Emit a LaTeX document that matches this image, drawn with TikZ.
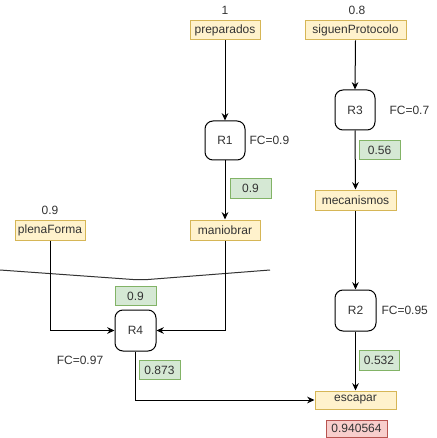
\documentclass[tikz,border=0pt]{standalone}
\usepackage{fontspec}
\setmainfont{Liberation Sans}
\usetikzlibrary{arrows.meta}
\definecolor{yfill}{HTML}{FFF2CC}
\definecolor{ydraw}{HTML}{D6B656}
\definecolor{gfill}{HTML}{D5E8D4}
\definecolor{gdraw}{HTML}{82B366}
\definecolor{rfill}{HTML}{F8CECC}
\definecolor{rdraw}{HTML}{B85450}
\definecolor{txt}{HTML}{333333}
\tikzset{
  base/.style={inner sep=0pt, line width=0.75pt, font=\fontsize{9}{11}\selectfont, text=txt},
  sz/.style 2 args={minimum width=#1*0.75pt, minimum height=#2*0.75pt},
  ybox/.style={base, draw=ydraw, fill=yfill},
  gbox/.style={base, draw=gdraw, fill=gfill},
  rbox/.style={base, draw=rdraw, fill=rfill},
  rule/.style={base, draw=black, fill=white, rounded corners=6pt},
  lbl/.style={base},
  conn/.style={line width=0.75pt, -{Stealth[length=5.5pt,width=5pt]}},
}
\begin{document}
\begin{tikzpicture}[x=0.75pt,y=-0.75pt]
\useasboundingbox (0,0) rectangle (436,438);
% top inputs
\node[lbl] (l1) at (225,10) {1};
\node[ybox, sz={70}{19}] (prep) at (225,30.5) {preparados};
\node[lbl] (l08) at (357,10) {0.8};
\node[ybox, sz={101}{19}] (sig) at (355.5,30.5) {siguenProtocolo};
% R1
\node[rule, sz={40}{39}] (R1) at (225,140.5) {R1};
\node[lbl, anchor=west] (fc1) at (249,140) {FC=0.9};
\node[gbox, sz={41}{19}] (g1) at (250.5,188.5) {0.9};
% R3
\node[rule, sz={40}{40}] (R3) at (355,110) {R3};
\node[lbl, anchor=west] (fc3) at (389,110) {FC=0.7};
\node[gbox, sz={41}{19}] (g3) at (379.5,150.5) {0.56};
\node[ybox, sz={81}{20}] (mec) at (355.5,200) {mecanismos};
% middle
\node[lbl] (l09) at (50,210) {0.9};
\node[ybox, sz={70}{20}] (plena) at (50,230) {plenaForma};
\node[ybox, sz={70}{20}] (man) at (225,230) {maniobrar};
% curve
\coordinate (c0) at (0,270);
\coordinate (c1) at (133,279.5);
\coordinate (c2) at (148,279.5);
\coordinate (c3) at (270,270);
\draw[line width=0.75pt, draw=black!80] (c0) -- (c1) -- (c2) -- (c3);
% R4
\node[gbox, sz={41}{19}] (g4) at (135.5,296) {0.9};
\node[rule, sz={41}{41}] (R4) at (135.5,330.5) {R4};
\node[lbl] (fc4) at (80,360) {FC=0.97};
\node[gbox, sz={41}{19}] (g5) at (159.5,370) {0.873};
% R2
\node[rule, sz={41}{41}] (R2) at (355.5,310.5) {R2};
\node[lbl, anchor=west] (fc2) at (381,310) {FC=0.95};
\node[gbox, sz={40}{20}] (g2) at (379,360) {0.532};
\node[ybox, sz={81}{18}] (esc) at (355.5,400) {escapar};
\node[rbox, sz={61}{17}] (red) at (356.5,428.5) {0.940564};
% connectors
\draw[conn] (prep.south) -- (R1.north);
\draw[conn] (R1.south) -- (man.north);
\draw[conn] (sig.south) -- (R3.north);
\draw[conn] (R3.south) -- (mec.north);
\draw[conn] (mec.south) -- (R2.north);
\draw[conn] (R2.south) -- (esc.north);
\draw[conn] (plena.south) |- (R4.west);
\draw[conn] (man.south) |- (R4.east);
\draw[conn] (R4.south) |- (esc.west);
\end{tikzpicture}
\end{document}
